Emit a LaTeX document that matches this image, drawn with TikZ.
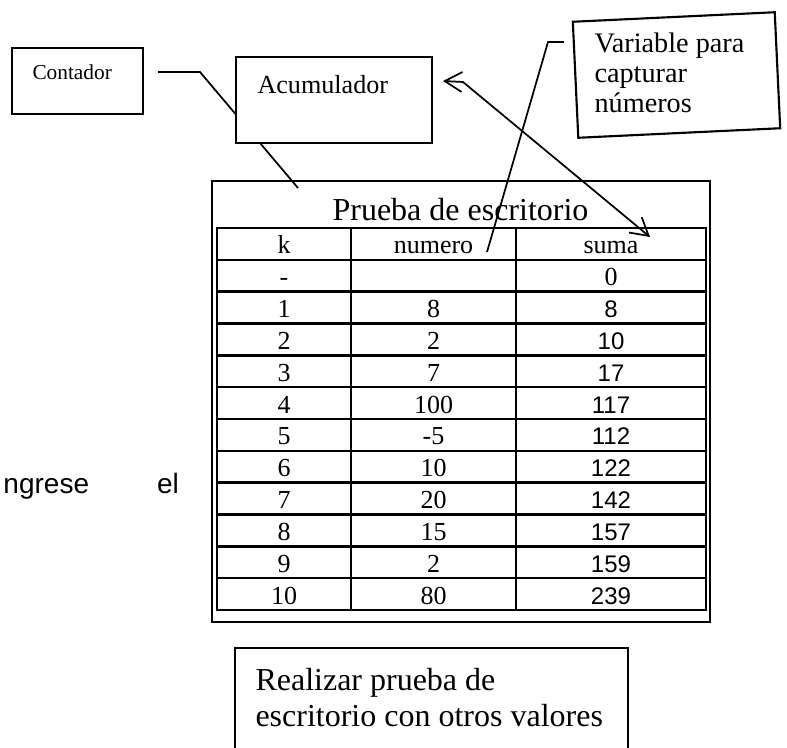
\documentclass[tikz,border=0pt]{standalone}
\usepackage{fontspec}
\setmainfont{Liberation Serif}
\newfontfamily\arialfont{Liberation Sans}
\usetikzlibrary{arrows.meta,fit,positioning}

\tikzset{every picture/.style={line width=0.75pt}}
\tikzset{
  callbox/.style={draw, line width=1.6pt, fill=white, inner sep=0pt},
  callline/.style={line width=1.3pt},
  gridline/.style={line width=1.8pt},
  celltxt/.style={anchor=base, inner sep=0pt, font=\fontsize{19.5}{22}\selectfont},
  sumtxt/.style={anchor=base, inner sep=0pt, font=\arialfont\fontsize{18}{22}\selectfont},
  barb/.tip={Straight Barb[length=13pt,width=15pt]},
}

\begin{document}
\begin{tikzpicture}[x=0.75pt,y=0.75pt,yscale=-1,xscale=1]
\useasboundingbox (0,0) rectangle (787,747);
\clip (0,0) rectangle (787,747);

%Table frame
\node (marco) [draw, line width=1.8pt, fit={(212,181) (710,622)}, inner sep=0pt] {};
\node (titulo) [anchor=base, inner sep=0pt, font=\fontsize{24}{28}\selectfont] at (460.5,220) {Prueba de escritorio};

%Table grid
\draw[gridline] (217,228) rectangle (706,610);
\foreach \i in {1,...,11}
  \draw[gridline] (217,228+31.83*\i) -- (706,228+31.83*\i);
\draw[gridline] (351,228) -- (351,610);
\draw[gridline] (516,228) -- (516,610);

%Table text
\node (hk) [celltxt] at (284,253.5) {k};
\node (hnumero) [celltxt] at (433.5,253.5) {numero};
\node (hsuma) [celltxt] at (611,253.5) {suma};
\node (k1) [celltxt] at (284,285.5) {-};
\node (s1) [celltxt] at (611,285.5) {0};
\foreach \k/\n/\s [count=\r from 2] in {1/8/8, 2/2/10, 3/7/17, 4/100/117, 5/-5/112, 6/10/122, 7/20/142, 8/15/157, 9/2/159, 10/80/239}
{
  \node (k\r) [celltxt] at (284,254+31.83*\r) {\k};
  \node (n\r) [celltxt] at (433.5,254+31.83*\r) {\n};
  \node (s\r) [sumtxt] at (611,254+31.83*\r) {\s};
}

%Text left
\node (ingrese) [anchor=base west, inner sep=0pt, font=\arialfont\fontsize{21}{24}\selectfont] at (3,493) {ngrese\hspace{51pt}el};

%Callout lines
\coordinate (contadorini) at (158,72);
\coordinate (contadorcodo) at (200,72);
\coordinate (contadorfin) at (298,188);
\draw[callline] (contadorini) -- (contadorcodo) -- (contadorfin);

\coordinate (variableini) at (564,42);
\coordinate (variablecodo) at (548,42);
\coordinate (variablefin) at (487,252);
\draw[callline] (variableini) -- (variablecodo) -- (variablefin);

\coordinate (acutip) at (443,81);
\coordinate (acucodo) at (463,82);
\coordinate (sumatip) at (650,237);
\draw[callline, barb-barb] (acutip) -- (acucodo) -- (sumatip);

%Boxes
\node (contador) [callbox, fit={(12,48) (143,114)}] {};
\node (contadortxt) [anchor=base west, inner sep=0pt, font=\fontsize{16}{19}\selectfont] at (32,79) {Contador};

\node (acumulador) [callbox, fit={(236,57) (432,143)}] {};
\node (acumuladortxt) [anchor=base west, inner sep=0pt, font=\fontsize{19.6}{23}\selectfont] at (257,93) {Acumulador};

\node (variable) [callbox, rotate=2.7, minimum width=151.6pt, minimum height=87.1pt] at (676.5,75) {};
\node (variabletxt) [anchor=base west, inner sep=0pt, align=left, font=\fontsize{21.2}{22.5}\selectfont] at (594,112) {Variable para\\capturar\\números};

\node (realizar) [callbox, fit={(235,648) (628,770)}] {};
\node (realizartxt) [anchor=base west, inner sep=0pt, align=left, font=\fontsize{24}{27}\selectfont] at (255,726) {Realizar prueba de\\escritorio con otros valores};

\end{tikzpicture}
\end{document}
